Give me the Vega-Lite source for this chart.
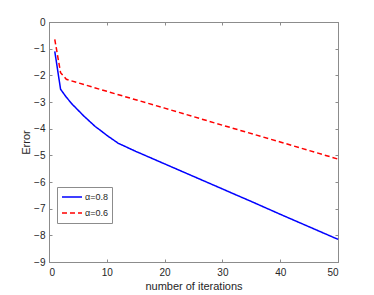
{
  "$schema": "https://vega.github.io/schema/vega-lite/v6.json",
  "width": 289,
  "height": 240,
  "autosize": {"type": "none"},
  "padding": {"left": 49, "top": 22, "right": 36, "bottom": 33},
  "background": "white",
  "config": {
    "font": "Liberation Sans",
    "view": {"stroke": "#8c8c8c", "strokeWidth": 1},
    "axis": {
      "grid": false,
      "domainColor": "#8c8c8c",
      "tickColor": "#8c8c8c",
      "tickSize": -3,
      "labelColor": "#262626",
      "labelFontSize": 10,
      "titleColor": "#262626",
      "titleFontSize": 11,
      "titleFontWeight": "normal"
    }
  },
  "data": {
    "values": [
      {"iter": 1, "error": -1.1, "series": "α=0.8"},
      {"iter": 2, "error": -2.52, "series": "α=0.8"},
      {"iter": 3, "error": -2.82, "series": "α=0.8"},
      {"iter": 4, "error": -3.08, "series": "α=0.8"},
      {"iter": 5, "error": -3.3, "series": "α=0.8"},
      {"iter": 6, "error": -3.52, "series": "α=0.8"},
      {"iter": 7, "error": -3.72, "series": "α=0.8"},
      {"iter": 8, "error": -3.92, "series": "α=0.8"},
      {"iter": 9, "error": -4.08, "series": "α=0.8"},
      {"iter": 10, "error": -4.25, "series": "α=0.8"},
      {"iter": 11, "error": -4.4, "series": "α=0.8"},
      {"iter": 12, "error": -4.55, "series": "α=0.8"},
      {"iter": 13, "error": -4.65, "series": "α=0.8"},
      {"iter": 15, "error": -4.85, "series": "α=0.8"},
      {"iter": 20, "error": -5.32, "series": "α=0.8"},
      {"iter": 25, "error": -5.79, "series": "α=0.8"},
      {"iter": 30, "error": -6.26, "series": "α=0.8"},
      {"iter": 32, "error": -6.45, "series": "α=0.8"},
      {"iter": 35, "error": -6.73, "series": "α=0.8"},
      {"iter": 40, "error": -7.21, "series": "α=0.8"},
      {"iter": 45, "error": -7.68, "series": "α=0.8"},
      {"iter": 50, "error": -8.15, "series": "α=0.8"},
      {"iter": 1, "error": -0.65, "series": "α=0.6"},
      {"iter": 2, "error": -1.9, "series": "α=0.6"},
      {"iter": 3, "error": -2.15, "series": "α=0.6"},
      {"iter": 10, "error": -2.6, "series": "α=0.6"},
      {"iter": 20, "error": -3.23, "series": "α=0.6"},
      {"iter": 30, "error": -3.87, "series": "α=0.6"},
      {"iter": 40, "error": -4.5, "series": "α=0.6"},
      {"iter": 50, "error": -5.14, "series": "α=0.6"}
    ]
  },
  "layer": [
    {
      "mark": {"type": "line", "strokeWidth": 1.5},
      "encoding": {
        "x": {
          "field": "iter", "type": "quantitative",
          "scale": {"domain": [0, 50], "nice": false, "zero": false},
          "axis": {"values": [0, 10, 20, 30, 40, 50], "title": "number of iterations", "labelPadding": 8, "titlePadding": 3}
        },
        "y": {
          "field": "error", "type": "quantitative",
          "scale": {"domain": [-9, 0], "nice": false, "zero": false},
          "axis": {"values": [0, -1, -2, -3, -4, -5, -6, -7, -8, -9], "title": "Error", "labelPadding": 7, "titlePadding": 2}
        },
        "color": {
          "field": "series", "type": "nominal",
          "scale": {"domain": ["α=0.8", "α=0.6"], "range": ["#0000ff", "#ff0000"]},
          "legend": {
            "title": null, "orient": "none", "legendX": 8, "legendY": 165,
            "strokeColor": "#8c8c8c", "fillColor": "white", "padding": 4,
            "labelFontSize": 9, "labelColor": "#262626", "symbolType": "stroke",
            "symbolSize": 400, "symbolStrokeWidth": 1.5, "rowPadding": 4, "clipHeight": 12, "labelOffset": 2
          }
        },
        "strokeDash": {
          "field": "series", "type": "nominal",
          "scale": {"domain": ["α=0.8", "α=0.6"], "range": [[1, 0], [5, 3]]},
          "legend": {
            "title": null, "orient": "none", "legendX": 8, "legendY": 165,
            "strokeColor": "#8c8c8c", "fillColor": "white", "padding": 4,
            "labelFontSize": 9, "labelColor": "#262626", "symbolType": "stroke",
            "symbolSize": 400, "symbolStrokeWidth": 1.5, "rowPadding": 4, "clipHeight": 12, "labelOffset": 2
          }
        }
      }
    },
    {
      "mark": {"type": "line", "opacity": 0},
      "encoding": {
        "detail": {"field": "series", "type": "nominal"},
        "x": {
          "field": "iter", "type": "quantitative",
          "scale": {"domain": [0, 50], "nice": false, "zero": false},
          "axis": {"orient": "top", "values": [0, 10, 20, 30, 40, 50], "labels": false, "title": null}
        },
        "y": {
          "field": "error", "type": "quantitative",
          "scale": {"domain": [-9, 0], "nice": false, "zero": false},
          "axis": {"orient": "right", "values": [0, -1, -2, -3, -4, -5, -6, -7, -8, -9], "labels": false, "title": null}
        }
      }
    }
  ],
  "resolve": {"axis": {"x": "independent", "y": "independent"}}
}
